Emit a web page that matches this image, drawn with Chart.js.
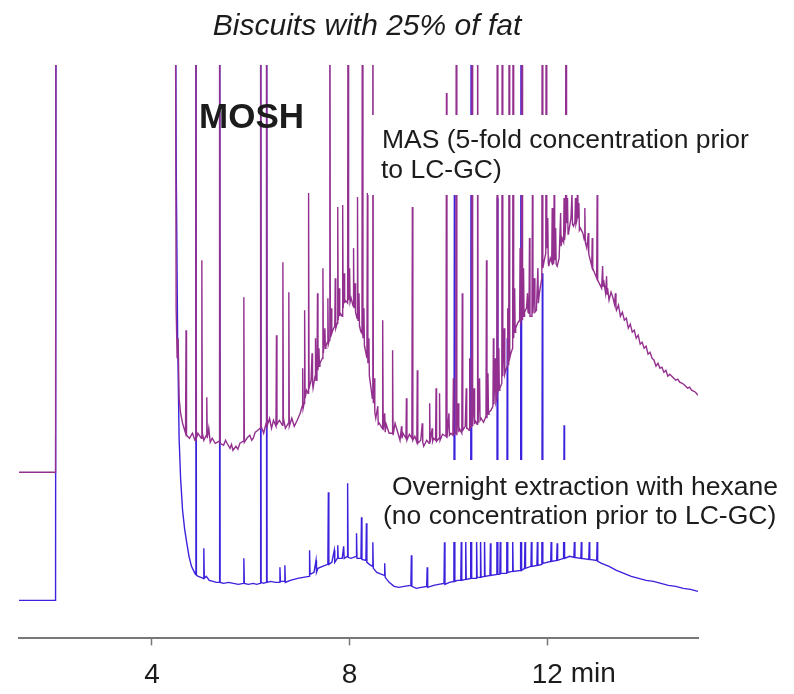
<!DOCTYPE html>
<html>
<head>
<meta charset="utf-8">
<script src="https://cdn.jsdelivr.net/npm/chart.js@4.4.1/dist/chart.umd.min.js"></script>
<style>
  html, body { margin: 0; padding: 0; background: #fff; }
  #wrap { width: 794px; height: 694px; }
</style>
</head>
<body>
<div id="wrap"><canvas id="chrom" width="794" height="694"></canvas></div>
<script>
// retention time (min), detector signal (arbitrary units)
const masTrace = [
  [1.31,166],[2.05,166],[2.06,800],[4.47,800],
  [4.49,330],[4.51,280],[4.53,300],[4.55,240],[4.58,225],[4.62,215],
  [4.68,205],[4.69,308],[4.70,203],[4.76,200],[4.82,205],[4.87,198],
  [4.88,198],[4.89,800],[4.90,200],[4.93,205],
  [5.00,200],[5.01,378],[5.02,205],[5.05,198],
  [5.10,203],[5.11,241],[5.12,200],[5.15,210],[5.18,196],[5.22,200],[5.28,195],
  [5.36,197],[5.37,800],[5.38,195],
  [5.45,193],[5.49,198],[5.52,195],[5.58,190],[5.61,194],[5.64,188],[5.70,192],[5.74,189],[5.78,195],
  [5.85,197],[5.86,341],[5.87,196],[5.92,200],[5.98,203],[6.02,198],[6.05,200],[6.09,206],[6.12,207],
  [6.19,210],[6.20,800],[6.21,212],[6.26,205],
  [6.31,215],[6.32,800],[6.33,212],[6.38,220],[6.42,210],[6.46,218],
  [6.51,212],[6.52,303],[6.53,214],[6.58,218],
  [6.64,213],[6.65,376],[6.66,220],[6.70,210],
  [6.76,215],[6.77,346],[6.78,212],[6.83,220],[6.88,212],[6.94,218],[7.00,225],
  [7.04,232],[7.05,270],[7.06,230],
  [7.08,235],[7.09,328],[7.10,240],[7.13,248],
  [7.16,245],[7.17,445],[7.18,250],[7.22,258],[7.24,285],[7.25,255],[7.26,250],
  [7.30,262],[7.31,300],[7.32,258],
  [7.34,262],[7.35,345],[7.36,268],[7.38,290],[7.39,272],[7.40,275],
  [7.45,280],[7.46,370],[7.47,285],[7.50,310],[7.51,290],[7.52,292],
  [7.55,296],[7.56,340],[7.57,294],
  [7.59,298],[7.60,800],[7.61,300],[7.63,330],[7.64,305],[7.66,308],
  [7.70,312],[7.71,360],[7.72,310],
  [7.75,315],[7.76,431],[7.77,318],[7.79,350],[7.80,322],[7.81,325],
  [7.85,322],[7.86,433],[7.87,330],[7.89,365],[7.90,335],[7.91,338],
  [7.96,335],[7.97,800],[7.98,338],[8.00,370],[8.01,336],[8.03,340],
  [8.07,332],[8.08,390],[8.09,330],[8.11,355],[8.12,326],
  [8.15,320],[8.16,441],[8.17,318],[8.19,345],[8.20,312],[8.21,310],
  [8.25,305],[8.26,800],[8.27,300],[8.29,330],[8.30,292],[8.31,290],
  [8.35,280],[8.36,445],[8.37,275],[8.39,300],[8.40,262],[8.42,255],
  [8.46,240],[8.47,800],[8.48,235],[8.50,260],[8.51,226],[8.53,220],[8.57,232],[8.58,214],[8.60,215],
  [8.66,210],[8.67,318],[8.68,208],[8.71,225],[8.72,206],[8.74,214],[8.80,205],
  [8.86,205],[8.87,288],[8.88,203],[8.92,215],[8.95,210],[9.02,198],[9.05,212],[9.06,200],[9.08,205],
  [9.14,200],[9.15,240],[9.16,198],[9.21,204],
  [9.26,200],[9.27,431],[9.28,198],[9.32,202],
  [9.36,196],[9.37,268],[9.38,195],[9.44,198],[9.47,215],[9.48,196],[9.50,192],[9.56,198],
  [9.61,195],[9.62,235],[9.63,196],[9.67,210],[9.68,197],[9.70,200],
  [9.74,198],[9.75,250],[9.76,197],
  [9.81,200],[9.82,245],[9.83,198],[9.88,204],
  [9.95,202],[9.96,545],[9.97,200],[10.01,225],[10.02,203],[10.05,205],
  [10.09,203],[10.10,260],[10.11,204],
  [10.15,205],[10.16,800],[10.17,203],[10.20,235],[10.21,206],[10.22,210],
  [10.27,205],[10.28,345],[10.29,208],[10.34,212],[10.36,250],[10.37,210],[10.38,210],
  [10.42,208],[10.43,280],[10.44,210],
  [10.47,212],[10.48,800],[10.49,212],[10.52,250],[10.53,214],[10.54,218],
  [10.58,214],[10.59,800],[10.60,215],[10.63,260],[10.64,218],[10.66,220],[10.71,216],
  [10.76,222],[10.77,378],[10.78,220],[10.80,265],[10.81,224],[10.82,226],[10.86,228],
  [10.90,232],[10.91,300],[10.92,234],[10.95,280],[10.96,236],
  [10.98,240],[10.99,800],[11.00,245],[11.02,290],[11.03,248],[11.04,250],
  [11.08,255],[11.09,800],[11.10,262],[11.13,310],[11.14,264],[11.16,268],
  [11.19,272],[11.20,330],[11.21,274],
  [11.22,278],[11.23,800],[11.24,280],[11.27,286],
  [11.30,290],[11.31,800],[11.32,300],[11.34,350],[11.35,306],[11.36,310],[11.40,315],
  [11.44,318],[11.45,390],[11.46,316],
  [11.48,320],[11.49,800],[11.50,318],[11.52,370],[11.53,322],[11.54,326],[11.58,330],
  [11.60,345],[11.61,326],
  [11.63,325],[11.64,400],[11.65,322],
  [11.69,322],[11.70,455],[11.71,325],[11.74,360],[11.75,326],[11.78,328],[11.81,370],[11.82,335],[11.84,345],
  [11.89,360],[11.90,800],[11.91,370],[11.94,378],
  [11.97,385],[11.98,800],[11.99,390],[12.01,420],[12.02,376],[12.03,372],[12.06,380],
  [12.09,376],[12.10,430],[12.11,374],
  [12.13,375],[12.14,455],[12.15,378],[12.17,410],[12.18,374],[12.20,372],[12.24,380],[12.27,425],[12.28,392],[12.30,400],
  [12.33,396],[12.34,440],[12.35,398],
  [12.37,410],[12.38,800],[12.39,415],[12.41,440],[12.42,404],[12.43,405],[12.48,420],[12.50,445],[12.51,414],[12.53,412],
  [12.56,416],[12.57,440],[12.58,414],
  [12.60,418],[12.61,450],[12.62,420],[12.64,435],[12.65,408],[12.67,410],[12.72,405],
  [12.75,398],[12.76,430],[12.77,396],[12.80,390],[12.83,405],[12.84,384],[12.86,380],
  [12.90,372],[12.91,400],[12.92,370],[12.96,365],
  [13.00,360],[13.01,450],[13.02,358],[13.06,354],
  [13.10,350],[13.12,372],[13.13,352],[13.14,358],[13.18,345],[13.20,362],[13.21,344],[13.22,350],[13.25,338],[13.29,346],[13.32,342],
  [13.36,334],[13.38,345],[13.39,330],[13.40,328],[13.44,333],[13.48,322],[13.52,326],[13.56,318],[13.60,320],
  [13.64,310],[13.68,314],[13.72,306],[13.76,308],[13.80,300],[13.84,303],[13.88,294],
  [13.92,296],[13.96,290],[14.00,292],[14.04,284],[14.08,286],[14.12,280],[14.16,278],
  [14.20,272],[14.24,275],[14.28,270],[14.32,271],[14.36,266],[14.40,268],[14.44,262],
  [14.48,264],[14.52,262],[14.56,260],[14.60,258],[14.64,259],[14.68,256],[14.72,255],
  [14.76,254],[14.80,252],[14.84,250],[14.88,251],[14.92,248],[14.96,247],[15.00,246],
  [15.05,243]
];

const hexaneTrace = [
  [1.31,38],[2.05,38],[2.06,800],[4.47,800],
  [4.49,480],[4.52,300],[4.55,200],[4.58,160],[4.62,128],[4.66,110],[4.70,97],
  [4.75,82],[4.80,72],[4.86,66],
  [4.88,64],[4.89,800],[4.90,63],[4.94,62],
  [5.04,60],[5.05,90],[5.06,60],[5.10,62],[5.16,58],[5.24,57],[5.30,56],
  [5.36,56],[5.37,800],[5.38,56],
  [5.45,55],[5.55,56],[5.65,55],[5.75,54],
  [5.85,55],[5.86,80],[5.87,55],[5.95,54],[6.05,55],[6.12,54],
  [6.19,55],[6.20,800],[6.21,56],[6.26,55],
  [6.31,56],[6.32,800],[6.33,56],[6.40,57],[6.50,56],
  [6.58,56],[6.59,71],[6.60,57],
  [6.68,57],[6.69,73],[6.70,56],[6.80,58],[6.95,60],[7.06,61],
  [7.18,62],[7.19,88],[7.20,64],[7.28,66],[7.32,78],[7.33,66],[7.36,70],[7.45,72],
  [7.56,74],[7.57,146],[7.58,74],[7.64,76],[7.69,88],[7.70,76],
  [7.75,80],[7.76,93],[7.77,80],[7.85,80],[7.88,92],[7.89,80],
  [7.95,82],[7.96,155],[7.97,81],[8.03,80],
  [8.13,82],[8.14,105],[8.15,80],
  [8.23,80],[8.24,121],[8.25,79],
  [8.33,78],[8.34,115],[8.35,76],[8.40,74],
  [8.46,72],[8.47,96],[8.48,70],[8.55,66],
  [8.70,63],[8.71,75],[8.72,61],[8.80,56],[8.90,52],[9.00,51],[9.10,52],
  [9.24,53],[9.25,83],[9.26,52],[9.35,50],[9.45,51],
  [9.56,52],[9.57,71],[9.58,51],[9.70,53],[9.80,54],
  [9.91,55],[9.92,96],[9.93,54],[10.02,56],
  [10.11,57],[10.12,445],[10.13,57],[10.18,58],
  [10.25,58],[10.26,98],[10.27,58],
  [10.34,59],[10.35,100],[10.36,59],
  [10.45,60],[10.46,800],[10.47,60],
  [10.56,60],[10.57,100],[10.58,61],
  [10.64,61],[10.65,100],[10.66,61],
  [10.72,62],[10.73,102],[10.74,62],
  [10.84,63],[10.85,95],[10.86,63],
  [10.98,64],[10.99,440],[11.00,64],
  [11.04,64],[11.05,100],[11.06,65],
  [11.18,65],[11.19,300],[11.20,66],
  [11.29,67],[11.30,100],[11.31,67],
  [11.46,68],[11.47,800],[11.48,68],
  [11.54,70],[11.55,100],[11.56,70],
  [11.67,72],[11.68,105],[11.69,72],
  [11.79,73],[11.80,98],[11.81,73],
  [11.89,74],[11.90,365],[11.91,75],
  [12.07,77],[12.08,100],[12.09,77],
  [12.19,78],[12.20,95],[12.21,78],
  [12.33,80],[12.34,213],[12.35,80],[12.45,82],
  [12.54,81],[12.55,100],[12.56,81],
  [12.68,80],[12.69,98],[12.70,80],
  [12.84,79],[12.85,98],[12.86,79],
  [13.00,78],[13.01,100],[13.02,77],
  [13.10,75],[13.25,72],[13.40,68],[13.55,65],[13.70,62],[13.85,60],[14.00,58],
  [14.15,57],[14.30,55],[14.45,53],[14.60,52],[14.75,50],[14.90,49],[15.05,47]
];

const xTicks = [4, 8, 12];
const xUnit = 'min';
const chartTitle = 'Biscuits with 25% of fat';
const fractionLabel = 'MOSH';
const masLabel = ['MAS (5-fold concentration prior', 'to LC-GC)'];
const hexaneLabel = ['Overnight extraction with hexane', '(no concentration prior to LC-GC)'];

const FONT = '"Liberation Sans", Arial, sans-serif';
const TEXT = '#1c1c1c';
const TICK_LEN = 7;
const TICK_PAD = 13;

// labels sit on white boxes that hide the peaks behind them, as in the original figure
const annotations = {
  id: 'annotations',
  afterDraw(chart) {
    const ctx = chart.ctx;
    const x = chart.scales.x;
    ctx.save();

    ctx.fillStyle = '#fff';
    ctx.fillRect(368, 115, 402, 80);
    ctx.fillRect(376, 460, 418, 82);

    ctx.fillStyle = TEXT;
    ctx.textBaseline = 'alphabetic';

    ctx.font = 'italic 30px ' + FONT;
    ctx.textAlign = 'center';
    ctx.fillText(chartTitle, 367, 35);

    ctx.textAlign = 'left';
    ctx.font = 'bold 35px ' + FONT;
    ctx.fillText(fractionLabel, 199, 128);

    ctx.font = '26.5px ' + FONT;
    ctx.fillText(masLabel[0], 382, 148);
    ctx.fillText(masLabel[1], 381, 178);
    ctx.fillText(hexaneLabel[0], 392, 495);
    ctx.fillText(hexaneLabel[1], 383, 524);

    // unit after the last tick label, on the same line
    ctx.font = '28px ' + FONT;
    ctx.textBaseline = 'middle';
    const last = xTicks[xTicks.length - 1];
    const px = x.getPixelForValue(last) + ctx.measureText(String(last)).width / 2 + ctx.measureText(' ').width;
    ctx.fillText(xUnit, px, x.top + TICK_LEN + TICK_PAD + 16);
    ctx.restore();
  }
};

const ctx = document.getElementById('chrom').getContext('2d');
new Chart(ctx, {
  type: 'scatter',
  data: {
    datasets: [
      {
        label: 'MAS',
        data: masTrace.map(p => ({ x: p[0], y: p[1] })),
        showLine: true,
        borderColor: '#93308f',
        borderWidth: 1.4,
        pointRadius: 0,
        tension: 0,
        clip: 0,
        order: 1
      },
      {
        label: 'Overnight extraction',
        data: hexaneTrace.map(p => ({ x: p[0], y: p[1] })),
        showLine: true,
        borderColor: '#3b22dc',
        borderWidth: 1.4,
        pointRadius: 0,
        tension: 0,
        clip: 0,
        order: 2
      }
    ]
  },
  options: {
    responsive: false,
    animation: false,
    layout: { padding: { left: 19, right: 96, top: 65, bottom: -11 } },
    plugins: {
      legend: { display: false },
      tooltip: { enabled: false },
      title: { display: false }
    },
    scales: {
      x: {
        type: 'linear',
        min: 1.31,
        max: 15.05,
        afterBuildTicks: scale => { scale.ticks = xTicks.map(v => ({ value: v })); },
        ticks: {
          color: TEXT,
          font: { family: FONT, size: 28 },
          padding: TICK_PAD,
          maxRotation: 0,
          callback: v => String(v)
        },
        grid: { drawOnChartArea: false, tickLength: TICK_LEN, color: '#777', tickWidth: 1.5 },
        border: { color: '#777', width: 2 }
      },
      y: {
        display: false,
        min: 0,
        max: 573
      }
    }
  },
  plugins: [annotations]
});
</script>
</body>
</html>
